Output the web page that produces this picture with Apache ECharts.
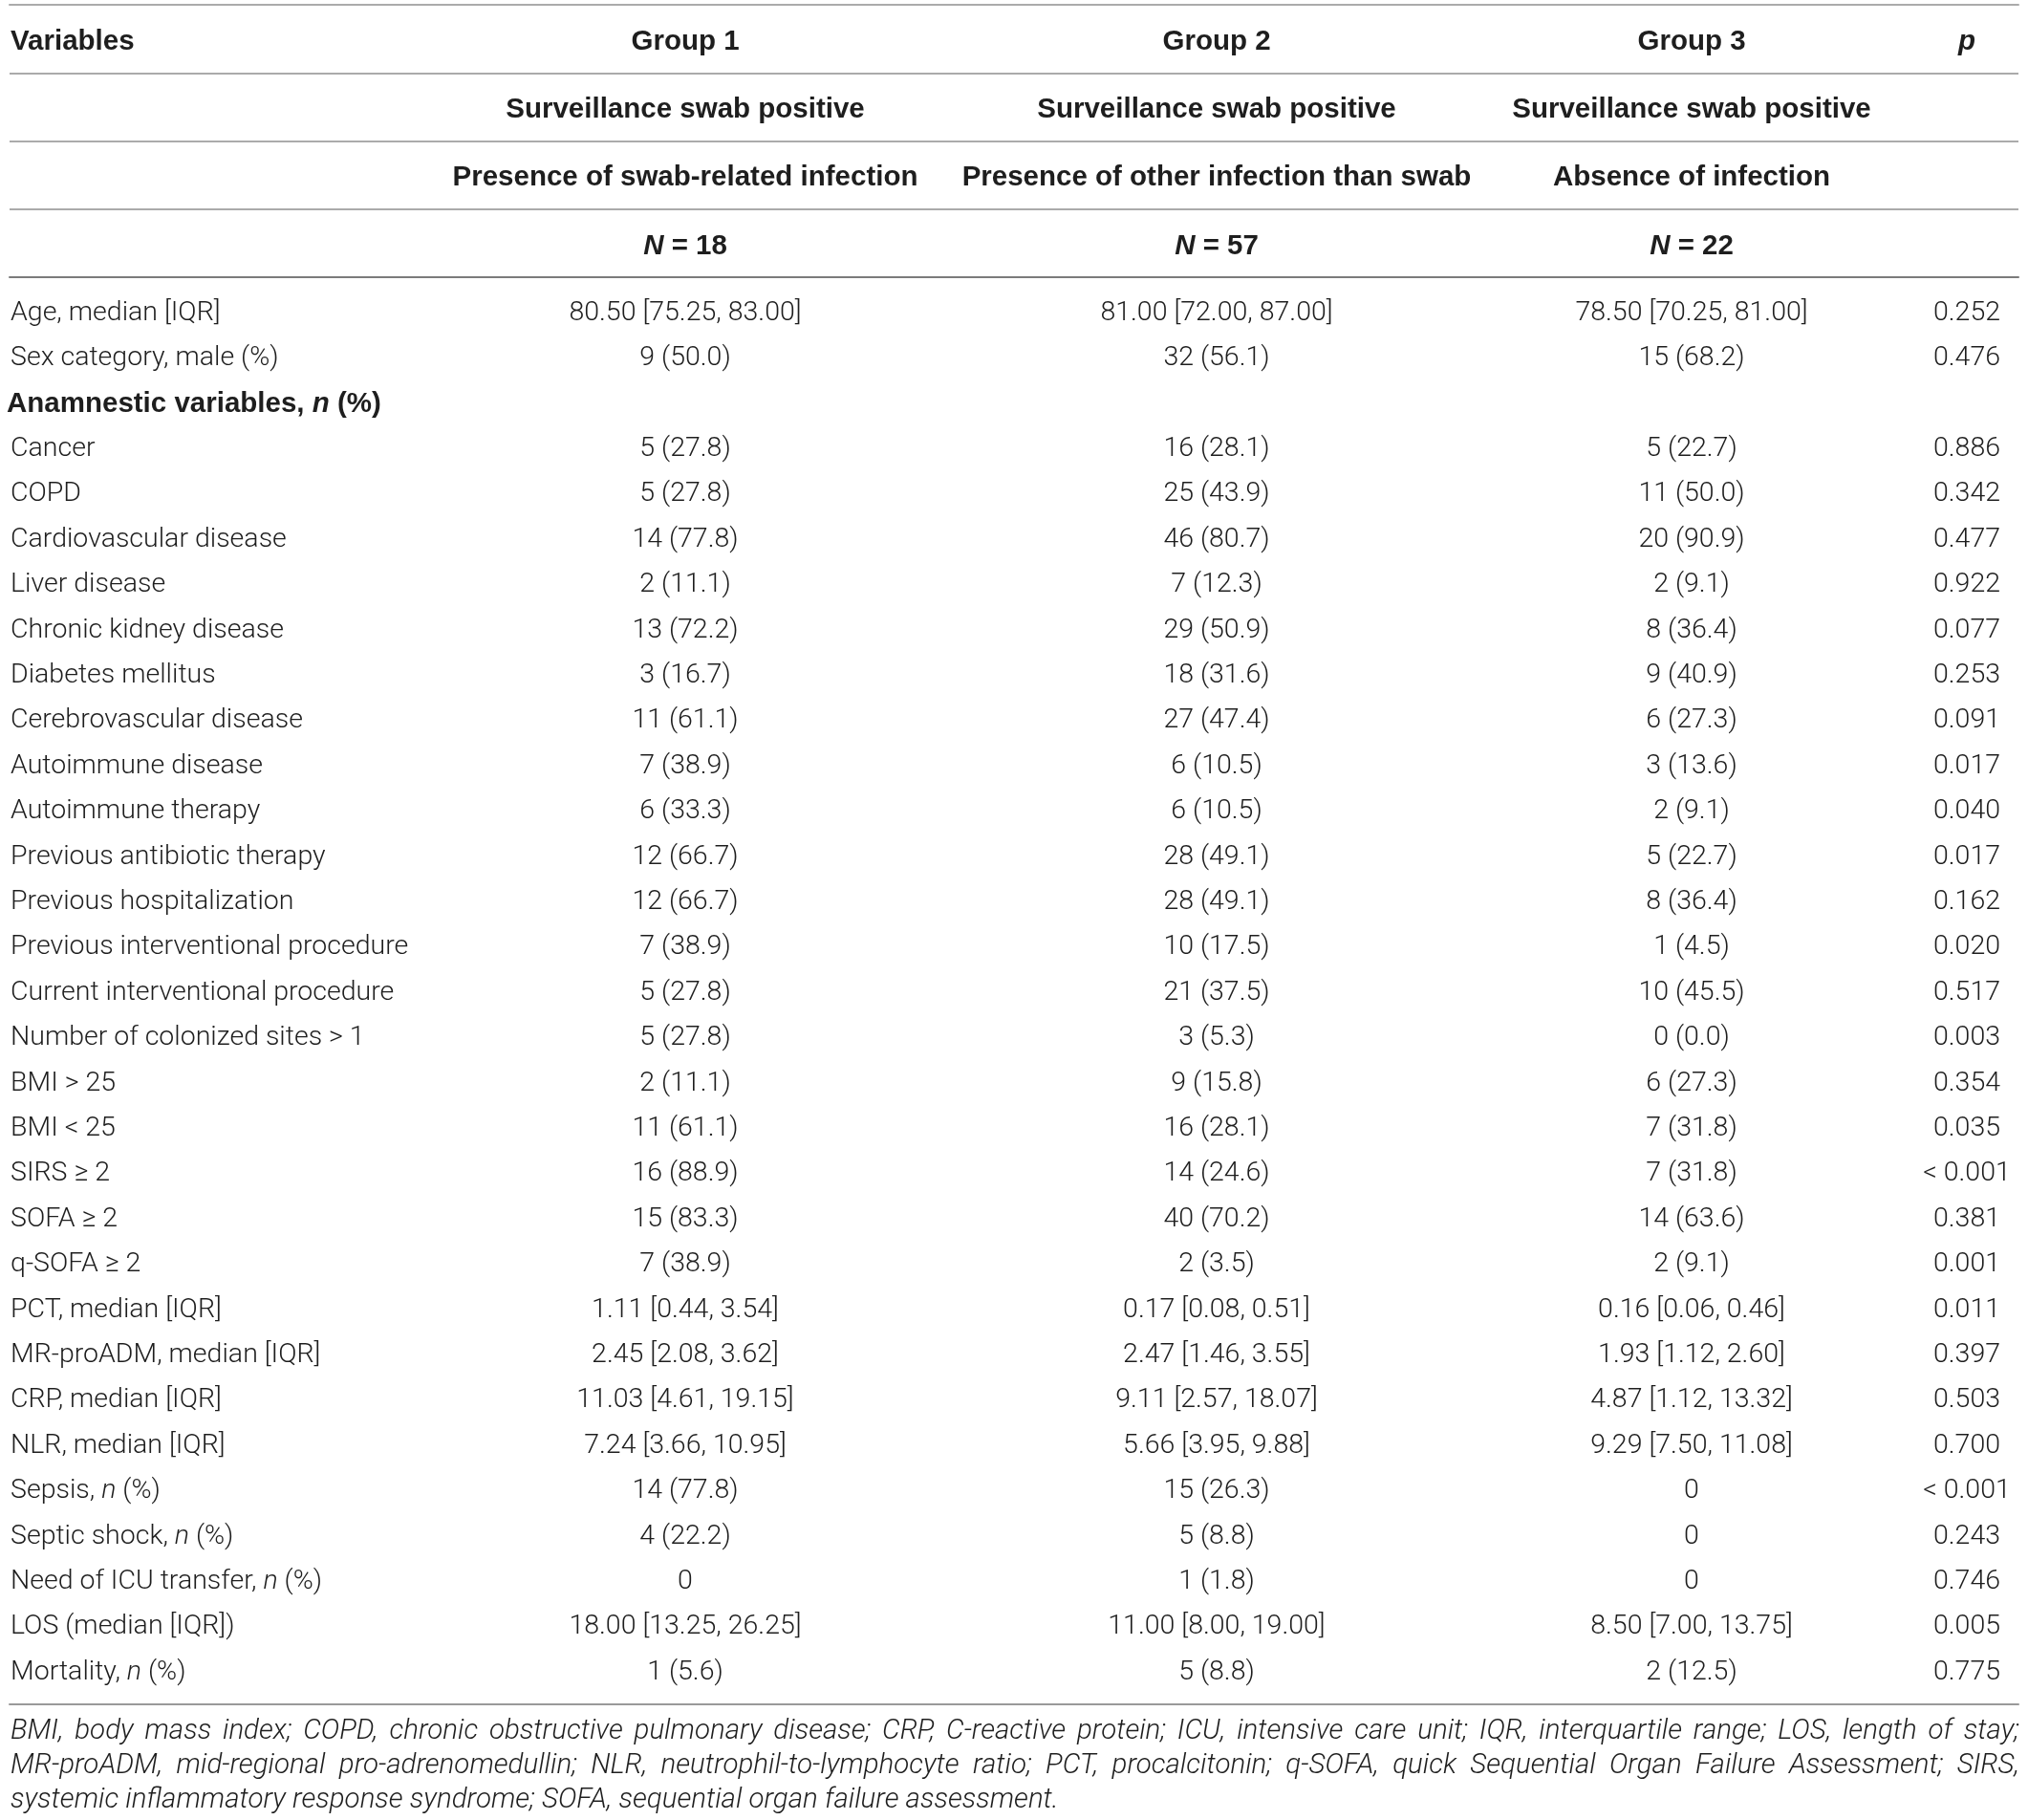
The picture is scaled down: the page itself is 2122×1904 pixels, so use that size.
<!DOCTYPE html>
<html>
<head>
<meta charset="utf-8">
<title>Table</title>
<script src="https://cdn.jsdelivr.net/npm/echarts@6/dist/echarts.min.js"></script>
<style>
  html, body { margin: 0; padding: 0; background: #fff; }
  #main { width: 2122px; height: 1904px; }
</style>
</head>
<body>
<div id="main"></div>
<script>
// header rows
var headGroups = ['Group 1', 'Group 2', 'Group 3'];
var headSwab = ['Surveillance swab positive', 'Surveillance swab positive', 'Surveillance swab positive'];
var headInfection = ['Presence of swab-related infection', 'Presence of other infection than swab', 'Absence of infection'];
var headN = [18, 57, 22];

// body rows
var variables = [
  'Age, median [IQR]', 'Sex category, male (%)', 'Anamnestic variables, n (%)', 'Cancer', 'COPD',
  'Cardiovascular disease', 'Liver disease', 'Chronic kidney disease', 'Diabetes mellitus',
  'Cerebrovascular disease', 'Autoimmune disease', 'Autoimmune therapy', 'Previous antibiotic therapy',
  'Previous hospitalization', 'Previous interventional procedure', 'Current interventional procedure',
  'Number of colonized sites > 1', 'BMI > 25', 'BMI < 25', 'SIRS ≥ 2', 'SOFA ≥ 2', 'q-SOFA ≥ 2',
  'PCT, median [IQR]', 'MR-proADM, median [IQR]', 'CRP, median [IQR]', 'NLR, median [IQR]',
  'Sepsis, n (%)', 'Septic shock, n (%)', 'Need of ICU transfer, n (%)', 'LOS (median [IQR])', 'Mortality, n (%)'
];
var group1 = [
  '80.50 [75.25, 83.00]', '9 (50.0)', '', '5 (27.8)', '5 (27.8)', '14 (77.8)', '2 (11.1)', '13 (72.2)',
  '3 (16.7)', '11 (61.1)', '7 (38.9)', '6 (33.3)', '12 (66.7)', '12 (66.7)', '7 (38.9)', '5 (27.8)',
  '5 (27.8)', '2 (11.1)', '11 (61.1)', '16 (88.9)', '15 (83.3)', '7 (38.9)', '1.11 [0.44, 3.54]',
  '2.45 [2.08, 3.62]', '11.03 [4.61, 19.15]', '7.24 [3.66, 10.95]', '14 (77.8)', '4 (22.2)', '0',
  '18.00 [13.25, 26.25]', '1 (5.6)'
];
var group2 = [
  '81.00 [72.00, 87.00]', '32 (56.1)', '', '16 (28.1)', '25 (43.9)', '46 (80.7)', '7 (12.3)', '29 (50.9)',
  '18 (31.6)', '27 (47.4)', '6 (10.5)', '6 (10.5)', '28 (49.1)', '28 (49.1)', '10 (17.5)', '21 (37.5)',
  '3 (5.3)', '9 (15.8)', '16 (28.1)', '14 (24.6)', '40 (70.2)', '2 (3.5)', '0.17 [0.08, 0.51]',
  '2.47 [1.46, 3.55]', '9.11 [2.57, 18.07]', '5.66 [3.95, 9.88]', '15 (26.3)', '5 (8.8)', '1 (1.8)',
  '11.00 [8.00, 19.00]', '5 (8.8)'
];
var group3 = [
  '78.50 [70.25, 81.00]', '15 (68.2)', '', '5 (22.7)', '11 (50.0)', '20 (90.9)', '2 (9.1)', '8 (36.4)',
  '9 (40.9)', '6 (27.3)', '3 (13.6)', '2 (9.1)', '5 (22.7)', '8 (36.4)', '1 (4.5)', '10 (45.5)',
  '0 (0.0)', '6 (27.3)', '7 (31.8)', '7 (31.8)', '14 (63.6)', '2 (9.1)', '0.16 [0.06, 0.46]',
  '1.93 [1.12, 2.60]', '4.87 [1.12, 13.32]', '9.29 [7.50, 11.08]', '0', '0', '0',
  '8.50 [7.00, 13.75]', '2 (12.5)'
];
var pValues = [
  '0.252', '0.476', '', '0.886', '0.342', '0.477', '0.922', '0.077', '0.253', '0.091', '0.017', '0.040',
  '0.017', '0.162', '0.020', '0.517', '0.003', '0.354', '0.035', '< 0.001', '0.381', '0.001', '0.011',
  '0.397', '0.503', '0.700', '< 0.001', '0.243', '0.746', '0.005', '0.775'
];
var sectionRows = ['Anamnestic variables, n (%)'];

var footnote = [
  'BMI, body mass index; COPD, chronic obstructive pulmonary disease; CRP, C-reactive protein; ICU, intensive care unit; IQR, interquartile range; LOS, length of stay;',
  'MR-proADM, mid-regional pro-adrenomedullin; NLR, neutrophil-to-lymphocyte ratio; PCT, procalcitonin; q-SOFA, quick Sequential Organ Failure Assessment; SIRS,',
  'systemic inflammatory response syndrome; SOFA, sequential organ failure assessment.'
];

// layout
var FONT = 'Roboto, "Liberation Sans", Arial, sans-serif';
var BOLD_FONT = '"Liberation Sans", Arial, sans-serif';
var FS = 28.5;
var BOLD_FS = 29.5;
var FOOT_FS = 29.5;
var TEXT = '#1e1e1e';
var colX = [11, 717, 1273, 1770, 2058];
var footY = [1812, 1848, 1884];

function italicize(s) {
  return s.replace(/\b([nNp])\b(?= \(%\)| =|$)/g, '{it|$1}');
}

// cells: [x, row] + text info
var headCells = [];
var headRows = [
  ['Variables'].concat(headGroups, ['p']),
  [''].concat(headSwab, ['']),
  [''].concat(headInfection, ['']),
  [''].concat(headN.map(function (n) { return 'N = ' + n; }), [''])
];
headRows.forEach(function (row, r) {
  row.forEach(function (t, c) {
    if (t === '') return;
    headCells.push({ value: [colX[c], r], text: t, bold: true, align: c === 0 ? 'left' : 'center' });
  });
});

var bodyCells = [];
variables.forEach(function (v, r) {
  var isSection = sectionRows.indexOf(v) >= 0;
  bodyCells.push({ value: [isSection ? colX[0] - 4 : colX[0], r], text: v, bold: isSection, align: 'left' });
  [group1, group2, group3, pValues].forEach(function (col, c) {
    if (col[r] === '') return;
    bodyCells.push({ value: [colX[c + 1], r], text: col[r], bold: false, align: 'center' });
  });
});

function textRenderer(cells, dy) {
  return function (params, api) {
    var cell = cells[params.dataIndex];
    var pt = api.coord([api.value(0), api.value(1)]);
    var weight = cell.bold ? 'bold' : 300;
    var family = cell.bold ? BOLD_FONT : FONT;
    var size = cell.bold ? BOLD_FS : FS;
    return {
      type: 'text',
      x: pt[0],
      y: pt[1] + dy,
      style: {
        text: italicize(cell.text),
        fill: TEXT,
        fontFamily: family,
        fontSize: size,
        fontWeight: weight,
        align: cell.align,
        verticalAlign: 'middle',
        rich: {
          it: { fontStyle: 'italic', fontWeight: weight, fontFamily: family, fontSize: size, fill: TEXT }
        }
      }
    };
  };
}

// justified footnote
var footFont = 'italic 300 ' + FOOT_FS + 'px ' + FONT;
var ctx = document.createElement('canvas').getContext('2d');
ctx.font = footFont;
var footLeft = 11, footRight = 2113;
var graphics = [];
footnote.forEach(function (line, i) {
  var words = line.split(' ');
  var widths = words.map(function (w) { return ctx.measureText(w).width; });
  var total = widths.reduce(function (a, b) { return a + b; }, 0);
  var last = i === footnote.length - 1;
  var gap = last ? ctx.measureText(' ').width : (footRight - footLeft - total) / (words.length - 1);
  var x = footLeft;
  words.forEach(function (w, k) {
    graphics.push({
      type: 'text', x: x, y: footY[i],
      style: { text: w, font: footFont, fill: TEXT, verticalAlign: 'middle', align: 'left' }
    });
    x += widths[k] + gap;
  });
});

var hiddenX = function (idx, pos, color, offset) {
  return {
    gridIndex: idx, type: 'value', min: 10, max: 2112, position: pos, offset: offset || 0,
    axisLine: { show: !!color, onZero: false, lineStyle: { color: color || '#000', width: 2 } },
    axisTick: { show: false }, axisLabel: { show: false }, splitLine: { show: false }
  };
};

var chart = echarts.init(document.getElementById('main'));
chart.setOption({
  backgroundColor: '#fff',
  animation: false,
  grid: [
    { left: 10, right: 10, top: 5, height: 285 },
    { left: 10, right: 10, top: 303, height: 1469.4 }
  ],
  xAxis: [
    hiddenX(0, 'top', '#ababab'),
    hiddenX(0, 'bottom', '#7b7b7b'),
    hiddenX(1, 'bottom', '#9a9a9a', 10)
  ],
  yAxis: [
    {
      gridIndex: 0, type: 'category', inverse: true, data: ['group', 'swab', 'infection', 'n'],
      axisLine: { show: false }, axisTick: { show: false }, axisLabel: { show: false },
      splitLine: { show: true, interval: 0, lineStyle: { color: '#ababab', width: 2 } }
    },
    {
      gridIndex: 1, type: 'category', inverse: true, data: variables,
      axisLine: { show: false }, axisTick: { show: false }, axisLabel: { show: false },
      splitLine: { show: false }
    }
  ],
  series: [
    { type: 'custom', xAxisIndex: 0, yAxisIndex: 0, data: headCells, renderItem: textRenderer(headCells, 3), clip: false },
    { type: 'custom', xAxisIndex: 2, yAxisIndex: 1, data: bodyCells, renderItem: textRenderer(bodyCells, 1), clip: false }
  ],
  graphic: graphics
});
</script>
</body>
</html>
